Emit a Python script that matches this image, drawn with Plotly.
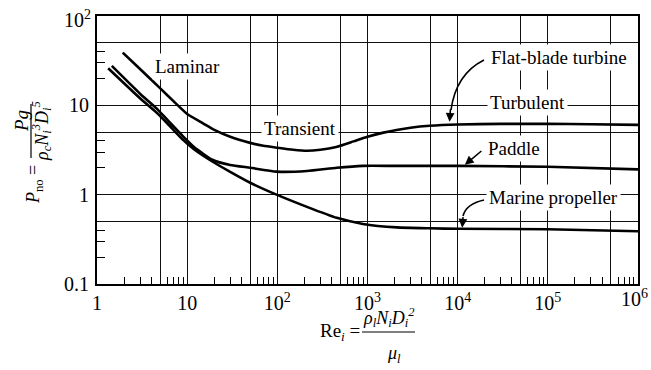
import math
import plotly.graph_objects as go

# ---- data ----
turbine_re = [1.93, 3, 5, 7, 10, 15, 20, 30, 50, 70, 100, 150, 213, 300, 450, 700, 1000, 1500,
              2100, 3000, 4900, 1e4, 3e4, 1e5, 3e5, 1e6]
turbine_np = [38.9, 25.5, 15.6, 11.2, 8.0, 6.3, 5.3, 4.45, 3.8, 3.52, 3.35, 3.18, 3.1, 3.18, 3.42,
              3.95, 4.45, 4.95, 5.3, 5.62, 5.9, 6.1, 6.2, 6.2, 6.15, 6.05]

paddle_re = [1.46, 3, 4.6, 6, 9, 12, 19, 30, 50, 98, 213, 456, 890, 2000, 1e4, 1e5, 1e6]
paddle_np = [27.6, 13.5, 9.2, 6.9, 4.5, 3.4, 2.46, 2.15, 2.0, 1.81, 1.84, 2.0, 2.1, 2.1, 2.1, 2.05, 1.92]

propeller_re = [1.33, 3, 4.6, 6, 9, 12, 19, 30, 50, 98, 213, 456, 890, 2120, 4900, 1e4, 1e5, 1e6]
propeller_np = [26, 12.0, 8.25, 6.3, 4.1, 3.2, 2.35, 1.8, 1.36, 1.0, 0.73, 0.55, 0.47, 0.43, 0.42,
                0.415, 0.41, 0.39]

x_grid = [1, 5, 10, 50, 100, 500, 1e3, 5e3, 1e4, 5e4, 1e5, 5e5, 1e6]
x_text = ["1", "", "10", "", "10<sup>2</sup>", "", "10<sup>3</sup>", "", "10<sup>4</sup>", "",
          "10<sup>5</sup>", "", ""]
x_end_label = "10<sup>6</sup>"
x_minor = [m * 10 ** d for d in range(6) for m in (2, 3, 4, 6, 7, 8, 9)]

y_grid = [0.1, 0.5, 1, 5, 10, 50, 100]
y_text = ["0.1", "", "1", "", "10", "", ""]
y_top_label = "10<sup>2</sup>"
y_minor = [m * 10 ** d for d in (-1, 0, 1) for m in (2, 3, 4)]

SERIF = "Liberation Serif"

# plot area in page pixels
PL, PR, PT, PB = 97, 638, 16, 284
W, H = 651, 370

def pap(px, py):
    return (px - PL) / (PR - PL), (PB - py) / (PB - PT)

fig = go.Figure()
for xs, ys in [(turbine_re, turbine_np), (paddle_re, paddle_np), (propeller_re, propeller_np)]:
    fig.add_trace(go.Scatter(x=xs, y=ys, mode="lines",
                             line=dict(color="black", width=2.6, shape="spline", smoothing=0.5),
                             showlegend=False, hoverinfo="skip"))

axis_common = dict(type="log", showgrid=True, gridcolor="#111", gridwidth=1.3,
                   ticks="", showline=True, mirror=True, linecolor="black", linewidth=2,
                   zeroline=False, tickmode="array", automargin=False,
                   ticklabeloverflow="allow",
                   tickfont=dict(family=SERIF, size=20, color="black"))

fig.update_xaxes(range=[0, 6], tickvals=x_grid, ticktext=x_text,
                 minor=dict(tickmode="array", tickvals=x_minor, ticks="inside", ticklen=7,
                            tickcolor="black", tickwidth=1.3, showgrid=False),
                 **axis_common)
fig.update_yaxes(range=[-1, 2], tickvals=y_grid, ticktext=y_text, ticklabelstandoff=2,
                 minor=dict(tickmode="array", tickvals=y_minor, ticks="inside", ticklen=8,
                            tickcolor="black", tickwidth=1.3, showgrid=False),
                 **axis_common)

lab_font = dict(family=SERIF, size=19, color="black")

def label(text, lx, ly):
    fig.add_annotation(x=lx, y=ly, xref="x", yref="y", text=text, showarrow=False,
                       xanchor="center", yanchor="middle",
                       font=lab_font, bgcolor="white", borderpad=2)

label("Laminar", 1.0, 1.43)
label("Transient", 2.25, 0.737)
label("Turbulent", 4.77, 1.028)
label("Flat-blade turbine", 5.12, 1.531)
label("Paddle", 4.62, 0.514)
label("Marine propeller", 5.06, -0.034)

def head(tx, ty, ax, ay):
    fig.add_annotation(x=tx, y=ty, xref="x", yref="y", text="", showarrow=True,
                       ax=ax, ay=ay, arrowhead=2, arrowsize=1.1, arrowwidth=1.6,
                       arrowcolor="black")

def curve(p0, c, p1):
    a, b, d = pap(*p0), pap(*c), pap(*p1)
    fig.add_shape(type="path", xref="paper", yref="paper",
                  path=f"M {a[0]},{a[1]} Q {b[0]},{b[1]} {d[0]},{d[1]}",
                  line=dict(color="black", width=1.6))

# Flat-blade turbine arrow (curved)
curve((484, 60), (456, 74), (451, 110))
head(3.91, 0.816, 1, -14)
# Paddle arrow
head(4.08, 0.335, 18, -15)
# Marine propeller arrow (curved)
curve((484, 200), (466, 204), (463, 216))
head(4.05, -0.369, 1, -12)

# text pieces placed in page pixels
def ptxt(text, px, py, size=18, angle=-90, xanchor="center"):
    xx, yy = pap(px, py)
    fig.add_annotation(x=xx, y=yy, xref="paper", yref="paper",
                       xanchor=xanchor, yanchor="middle",
                       text=text, showarrow=False, textangle=angle,
                       font=dict(family=SERIF, size=size, color="black"))

# edge tick labels kept inside the page
ptxt(y_top_label, 93, 19, 20, 0, "right")
ptxt(x_end_label, 650, 298, 20, 0, "right")

# y-axis title (stacked fraction, rotated)
ptxt("<i>Pg</i>", 22, 121, 19)
ptxt("<i>ρ<sub>c</sub>N<sub>i</sub><sup>3</sup>D<sub>i</sub><sup>5</sup></i>", 41, 131, 18)
ptxt("<i>P</i><sub>no</sub> =", 34, 185, 18)
b0, b1 = pap(31, 158), pap(31, 104)
fig.add_shape(type="line", xref="paper", yref="paper", x0=b0[0], x1=b1[0], y0=b0[1], y1=b1[1],
              line=dict(color="black", width=1.2))

# x-axis title
ptxt("Re<sub><i>i</i></sub> =", 340, 332, 19, 0)
ptxt("<i>ρ<sub>l</sub>N<sub>i</sub>D<sub>i</sub><sup>2</sup></i>", 389, 317, 18, 0)
ptxt("<i>μ<sub>l</sub></i>", 394, 354, 18, 0)
c0, c1 = pap(362, 332), pap(415, 332)
fig.add_shape(type="line", xref="paper", yref="paper", x0=c0[0], x1=c1[0], y0=c0[1], y1=c1[1],
              line=dict(color="black", width=1.2))

fig.update_layout(width=W, height=H,
                  margin=dict(l=PL, r=W - PR, t=PT, b=H - PB, autoexpand=False),
                  paper_bgcolor="white", plot_bgcolor="white", showlegend=False)

fig.write_html("out.html", config={"displayModeBar": False},
               post_script="document.body.style.margin='0px';document.body.style.overflow='hidden';")
